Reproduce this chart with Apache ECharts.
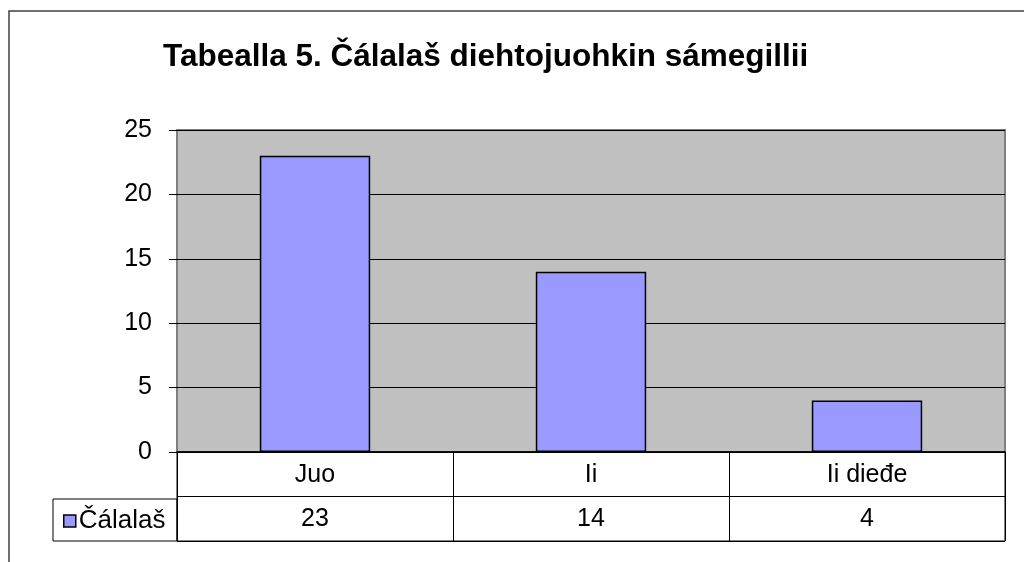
<!DOCTYPE html>
<html>
<head>
<meta charset="utf-8">
<script src="https://cdn.jsdelivr.net/npm/echarts@6/dist/echarts.min.js"></script>
<style>
  html, body { margin: 0; padding: 0; background: #fff; }
  #chart { width: 1024px; height: 562px; }
</style>
</head>
<body>
<div id="chart"></div>
<script>
var categories = ['Juo', 'Ii', 'Ii dieđe'];
var seriesName = 'Čálalaš';
var values = [23, 14, 4];
var yTicks = [0, 5, 10, 15, 20, 25];

var font = 'Liberation Sans, Arial, sans-serif';
var myChart = echarts.init(document.getElementById('chart'));

var option = {
  animation: false,
  backgroundColor: '#fff',
  title: {
    text: 'Tabealla 5. Čálalaš diehtojuohkin sámegillii',
    left: 158,
    top: 36,
    textStyle: { fontFamily: font, fontSize: 31.5, fontWeight: 'bold', color: '#000' }
  },
  legend: {
    left: 58,
    top: 503,
    itemWidth: 12,
    itemHeight: 12,
    itemGap: 0,
    icon: 'rect',
    itemStyle: { borderColor: '#000', borderWidth: 1.5 },
    textStyle: { fontFamily: font, fontSize: 26, color: '#000', padding: [0, 0, 0, -2] },
    data: [seriesName]
  },
  graphic: [
    // outer chart frame
    { type: 'rect', shape: { x: 9, y: 11, width: 1100, height: 600 },
      style: { fill: null, stroke: '#404040', lineWidth: 1.5 }, silent: true },
    // legend cell of the data table
    { type: 'rect', shape: { x: 53, y: 499, width: 124, height: 42 },
      style: { fill: null, stroke: '#000', lineWidth: 1 }, silent: true }
  ],
  grid: [
    { left: 177, top: 130, width: 828, height: 322, show: true,
      backgroundColor: '#C0C0C0', borderColor: '#808080', borderWidth: 2 },
    { left: 177, top: 452, width: 828, height: 89, show: true,
      backgroundColor: 'transparent', borderColor: '#000', borderWidth: 1 }
  ],
  xAxis: [
    {
      type: 'category', gridIndex: 0, data: categories,
      axisLine: { show: true, lineStyle: { color: '#000', width: 1.5 } },
      axisTick: { show: false },
      axisLabel: { margin: 11, fontFamily: font, fontSize: 25, color: '#000' }
    },
    {
      type: 'category', gridIndex: 1, data: values.map(String),
      axisLine: { show: false },
      axisTick: { show: false },
      splitLine: { show: true, interval: 0, lineStyle: { color: '#000', width: 1 } },
      axisLabel: { inside: true, margin: 9, fontFamily: font, fontSize: 25, color: '#000' }
    }
  ],
  yAxis: [
    {
      type: 'value', gridIndex: 0, min: yTicks[0], max: yTicks[yTicks.length - 1], interval: 5,
      axisLine: { show: false },
      axisTick: { show: true, length: 8, lineStyle: { color: '#000', width: 1 } },
      splitLine: { show: true, lineStyle: { color: '#000', width: 1 } },
      axisLabel: { margin: 25, fontFamily: font, fontSize: 25, color: '#000' }
    },
    {
      type: 'value', gridIndex: 1, min: 0, max: 2, interval: 1,
      axisLine: { show: false }, axisTick: { show: false }, axisLabel: { show: false },
      splitLine: { show: true, lineStyle: { color: '#000', width: 1 } }
    }
  ],
  series: [
    {
      name: seriesName,
      type: 'bar',
      xAxisIndex: 0,
      yAxisIndex: 0,
      data: values,
      barWidth: '40%',
      itemStyle: { color: '#9999FF', borderColor: '#000', borderWidth: 1.5 }
    }
  ]
};
myChart.setOption(option);
</script>
</body>
</html>
